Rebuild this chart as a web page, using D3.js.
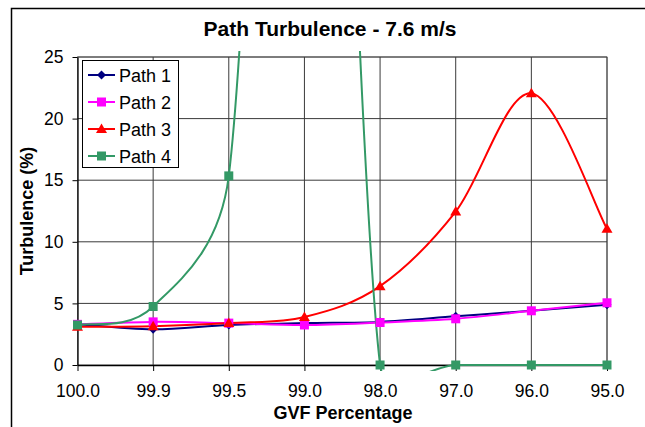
<!DOCTYPE html>
<html>
<head>
<meta charset="utf-8">
<script src="https://cdn.jsdelivr.net/npm/d3@7"></script>
<style>
  html, body { margin: 0; padding: 0; background: #fff; }
  svg { display: block; font-family: "Liberation Sans", Arial, sans-serif; }
</style>
</head>
<body>
<svg id="chart" width="645" height="427"></svg>
<script>
// ---- data ----
const categories = ["100.0", "99.9", "99.5", "99.0", "98.0", "97.0", "96.0", "95.0"];
const path1 = [3.3, 2.9, 3.25, 3.4, 3.5, 3.95, 4.4, 4.9];
const path2 = [3.3, 3.5, 3.4, 3.25, 3.45, 3.75, 4.4, 5.05];
const path3 = [3.1, 3.15, 3.4, 3.9, 6.4, 12.45, 22.05, 11.05];
const path4 = [3.25, 4.75, 15.35, 105, 0, 0, 0, 0];
const seriesNames = ["Path 1", "Path 2", "Path 3", "Path 4"];
const yTicks = [0, 5, 10, 15, 20, 25];
const titleText = "Path Turbulence - 7.6 m/s";
const xTitle = "GVF Percentage";
const yTitle = "Turbulence (%)";

const series = [
  { name: seriesNames[0], values: path1, color: "#000080", marker: "diamond" },
  { name: seriesNames[1], values: path2, color: "#FF00FF", marker: "square" },
  { name: seriesNames[2], values: path3, color: "#FF0000", marker: "triangle" },
  { name: seriesNames[3], values: path4, color: "#339966", marker: "square" }
];

const svg = d3.select("#chart");
const pL = 77.5, pR = 607, pT = 57, pB = 365;

const x = d3.scalePoint().domain(categories).range([pL, pR]);
const y = d3.scaleLinear().domain([0, 25]).range([pB, pT]);

// outer chart border (cropped)
svg.append("path").attr("d", `M11.5,427 V8.5 H645`)
  .attr("fill", "none").attr("stroke", "#000").attr("stroke-width", 1.5);

// title
svg.append("text").attr("x", 330).attr("y", 36).attr("text-anchor", "middle")
  .attr("font-size", 21).attr("font-weight", "bold").text(titleText);

// plot area border
svg.append("rect").attr("x", pL).attr("y", pT).attr("width", pR - pL).attr("height", pB - pT)
  .attr("fill", "#fff").attr("stroke", "#808080").attr("stroke-width", 1);

// gridlines
const grid = svg.append("g");
grid.selectAll("line.h").data(yTicks.filter(d => d > 0)).join("line")
  .attr("x1", pL).attr("x2", pR).attr("y1", d => y(d)).attr("y2", d => y(d))
  .attr("stroke", "#3a3a3a").attr("stroke-width", 1);
grid.selectAll("line.v").data(categories.slice(1)).join("line")
  .attr("x1", d => x(d)).attr("x2", d => x(d)).attr("y1", pT).attr("y2", pB)
  .attr("stroke", "#3a3a3a").attr("stroke-width", 1);

// axes
const yAxis = svg.append("g").attr("transform", `translate(${pL},0)`)
  .call(d3.axisLeft(y).tickValues(yTicks).tickSize(5).tickPadding(9).tickSizeOuter(0));
const xAxis = svg.append("g").attr("transform", `translate(0,${pB})`)
  .call(d3.axisBottom(x).tickSize(6).tickPadding(14).tickSizeOuter(0));
[yAxis, xAxis].forEach(a => {
  a.select(".domain").attr("stroke", "#000").attr("stroke-width", 1.3);
  a.selectAll(".tick line").attr("stroke", "#000");
  a.selectAll("text").attr("font-size", 17.5).attr("fill", "#000")
    .attr("font-family", "Liberation Sans, Arial, sans-serif");
});

// axis titles
svg.append("text").attr("x", 343).attr("y", 419).attr("text-anchor", "middle")
  .attr("font-size", 18).attr("font-weight", "bold").text(xTitle);
svg.append("text").attr("transform", "translate(33,211) rotate(-90)").attr("text-anchor", "middle")
  .attr("font-size", 18).attr("font-weight", "bold").text(yTitle);

// clip for smoothed lines
svg.append("clipPath").attr("id", "clip").append("rect")
  .attr("x", pL - 6).attr("y", pT - 6).attr("width", pR - pL + 12).attr("height", pB - pT + 12);

// Excel-like smoothed bezier: handles = (next - prev)/6, capped at half the segment length
function smoothPath(values) {
  const p = values.map((v, i) => [x(categories[i]), y(v)]);
  const n = p.length;
  const path = d3.path();
  path.moveTo(p[0][0], p[0][1]);
  const dist = (a, b) => Math.hypot(b[0] - a[0], b[1] - a[1]);
  for (let i = 0; i < n - 1; i++) {
    const p0 = p[Math.max(0, i - 1)], p1 = p[i], p2 = p[i + 1], p3 = p[Math.min(n - 1, i + 2)];
    const d12 = dist(p1, p2);
    let hx = (p2[0] - p0[0]) / 6, hy = (p2[1] - p0[1]) / 6;
    let hl = Math.hypot(hx, hy);
    if (hl > d12 / 2) { hx *= d12 / 2 / hl; hy *= d12 / 2 / hl; }
    let gx = (p3[0] - p1[0]) / 6, gy = (p3[1] - p1[1]) / 6;
    let gl = Math.hypot(gx, gy);
    if (gl > d12 / 2) { gx *= d12 / 2 / gl; gy *= d12 / 2 / gl; }
    path.bezierCurveTo(p1[0] + hx, p1[1] + hy, p2[0] - gx, p2[1] - gy, p2[0], p2[1]);
  }
  return path.toString();
}

function markerPath(type) {
  if (type === "diamond") return "M0,-4.5L4.5,0L0,4.5L-4.5,0Z";
  if (type === "square") return "M-4.5,-4.5H4.5V4.5H-4.5Z";
  return "M0,-5.5L5.5,4L-5.5,4Z";
}

const lines = svg.append("g").attr("clip-path", "url(#clip)");
series.forEach(s => {
  lines.append("path").attr("d", smoothPath(s.values)).attr("fill", "none")
    .attr("stroke", s.color).attr("stroke-width", 2);
});
const marks = svg.append("g");
series.forEach(s => {
  marks.selectAll(null).data(s.values.map((v, i) => ({ v, c: categories[i] })).filter(d => d.v <= 25))
    .join("path")
    .attr("transform", d => `translate(${x(d.c)},${y(d.v)})`)
    .attr("d", markerPath(s.marker)).attr("fill", s.color);
});

// legend
const lg = svg.append("g");
lg.append("rect").attr("x", 82.5).attr("y", 60.5).attr("width", 96).attr("height", 107)
  .attr("fill", "#fff").attr("stroke", "#000").attr("stroke-width", 1);
series.forEach((s, i) => {
  const cy = 75 + i * 27;
  lg.append("line").attr("x1", 88).attr("x2", 115).attr("y1", cy).attr("y2", cy)
    .attr("stroke", s.color).attr("stroke-width", 2);
  lg.append("path").attr("transform", `translate(101.5,${cy})`).attr("d", markerPath(s.marker)).attr("fill", s.color);
  lg.append("text").attr("x", 119).attr("y", cy + 6.5).attr("font-size", 18).text(s.name);
});
</script>
</body>
</html>
